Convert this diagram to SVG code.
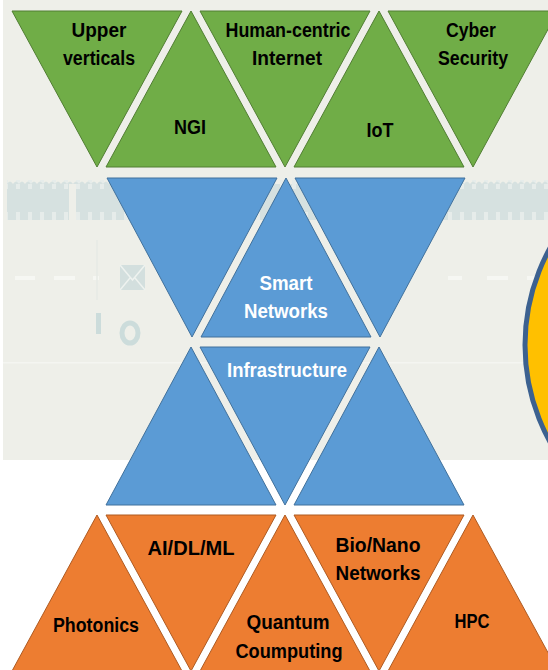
<svg xmlns="http://www.w3.org/2000/svg" width="548" height="670" viewBox="0 0 548 670">
  <defs>
    <style>
      .green { fill: #70AD47; stroke: #507E32; stroke-width: 1; }
      .blue { fill: #5B9BD5; stroke: #41719C; stroke-width: 1; }
      .orange { fill: #ED7D31; stroke: #AE5A21; stroke-width: 1; }
      .lbl { font-family: "Liberation Sans", Arial, sans-serif; font-weight: bold; font-size: 20px; text-anchor: middle; }
      .dark { fill: #000000; }
      .light { fill: #FFFFFF; }
      .faint { fill: #D6E1E0; }
      .dash { fill: #F6F7F3; }
    </style>
    <pattern id="windows" x="0" y="0" width="12" height="40" patternUnits="userSpaceOnUse">
      <rect x="4" y="12" width="4" height="17" fill="#E6ECEA"/>
    </pattern>
  </defs>

  <!-- backdrop -->
  <rect x="0" y="0" width="548" height="670" fill="#FFFFFF"/>
  <rect x="3" y="0" width="545" height="460" fill="#EEEFE9"/>

  <g id="backdrop-art">
    <!-- skyline band -->
    <rect x="7" y="184" width="62" height="36" class="faint"/>
    <rect x="76" y="184" width="472" height="36" class="faint"/>
    <rect x="7" y="180" width="541" height="40" fill="url(#windows)"/>
    <path d="M7,184 q3,-5 6,0 q3,-5 6,0 q3,-5 6,0 q3,-5 6,0 q3,-5 6,0 q3,-5 6,0 q3,-5 6,0 q3,-5 6,0 q3,-5 6,0 q3,-5 6,0 q3,-5 6,0 q3,-5 6,0 q3,-5 6,0 q3,-5 6,0 q3,-5 6,0 q3,-5 6,0 q3,-5 6,0 q3,-5 6,0" fill="#D6E1E0"/>
    <path d="M440,184 q3,-5 6,0 q3,-5 6,0 q3,-5 6,0 q3,-5 6,0 q3,-5 6,0 q3,-5 6,0 q3,-5 6,0 q3,-5 6,0 q3,-5 6,0 q3,-5 6,0 q3,-5 6,0 q3,-5 6,0 q3,-5 6,0 q3,-5 6,0 q3,-5 6,0 q3,-5 6,0 q3,-5 6,0 q3,-5 6,0" fill="#D6E1E0"/>
    <!-- dashed road line -->
    <rect x="15" y="276" width="20" height="4" class="dash"/>
    <rect x="54" y="276" width="21" height="4" class="dash"/>
    <rect x="93" y="276" width="6" height="4" class="dash"/>
    <rect x="448" y="276" width="14" height="4" class="dash"/>
    <rect x="487" y="276" width="21" height="4" class="dash"/>
    <rect x="527" y="276" width="21" height="4" class="dash"/>
    <rect x="3" y="362" width="545" height="1.5" fill="#F4F5F1"/>
    <line x1="97" y1="240" x2="97" y2="300" stroke="#E6EAE5" stroke-width="1.5"/>
    <!-- envelope -->
    <rect x="120" y="265" width="25" height="25" fill="#D3DFDE"/>
    <path d="M120,265 L132.5,280 L145,265 M120,290 L130,278 M145,290 L135,278" fill="none" stroke="#EEF2EF" stroke-width="1.5"/>
    <!-- I / O marks -->
    <rect x="96" y="313" width="5" height="21" fill="#CCDCDB"/>
    <ellipse cx="130" cy="333" rx="8" ry="10" fill="none" stroke="#CCDCDB" stroke-width="5"/>
    <!-- yellow disc on the right -->
    <circle cx="725" cy="345" r="200" fill="#FFC000" stroke="#3C6190" stroke-width="5"/>
  </g>

  <!-- top row -->
  <g id="upper-verticals">
    <polygon class="green" points="12,11 182,11 97,167"/>
    <text class="lbl dark" x="99" y="37" textLength="55" lengthAdjust="spacingAndGlyphs">Upper</text>
    <text class="lbl dark" x="99" y="65" textLength="72" lengthAdjust="spacingAndGlyphs">verticals</text>
  </g>
  <g id="ngi">
    <polygon class="green" points="191,11 106,167 276,167"/>
    <text class="lbl dark" x="190" y="134" textLength="32" lengthAdjust="spacingAndGlyphs">NGI</text>
  </g>
  <g id="human-centric-internet">
    <polygon class="green" points="200,11 370,11 285,167"/>
    <text class="lbl dark" x="288" y="37" textLength="125" lengthAdjust="spacingAndGlyphs">Human-centric</text>
    <text class="lbl dark" x="287" y="65" textLength="70" lengthAdjust="spacingAndGlyphs">Internet</text>
  </g>
  <g id="iot">
    <polygon class="green" points="379,11 294,167 464,167"/>
    <text class="lbl dark" x="380" y="137" textLength="27" lengthAdjust="spacingAndGlyphs">IoT</text>
  </g>
  <g id="cyber-security">
    <polygon class="green" points="388,11 558,11 473,167"/>
    <text class="lbl dark" x="471" y="37" textLength="50" lengthAdjust="spacingAndGlyphs">Cyber</text>
    <text class="lbl dark" x="473" y="65" textLength="70" lengthAdjust="spacingAndGlyphs">Security</text>
  </g>

  <!-- middle rows -->
  <g id="blue-upper-left">
    <polygon class="blue" points="107,178 277,178 192,337"/>
  </g>
  <g id="smart-networks">
    <polygon class="blue" points="286,178 201,337 371,337"/>
    <text class="lbl light" x="286" y="290" textLength="53" lengthAdjust="spacingAndGlyphs">Smart</text>
    <text class="lbl light" x="286" y="318" textLength="84" lengthAdjust="spacingAndGlyphs">Networks</text>
  </g>
  <g id="blue-upper-right">
    <polygon class="blue" points="295,178 465,178 380,337"/>
  </g>
  <g id="blue-lower-left">
    <polygon class="blue" points="191,347 106,505 276,505"/>
  </g>
  <g id="infrastructure">
    <polygon class="blue" points="200,347 370,347 285,505"/>
    <text class="lbl light" x="287" y="377" textLength="120" lengthAdjust="spacingAndGlyphs">Infrastructure</text>
  </g>
  <g id="blue-lower-right">
    <polygon class="blue" points="379,347 294,505 464,505"/>
  </g>

  <!-- bottom row -->
  <g id="photonics">
    <polygon class="orange" points="97,515 12,671 182,671"/>
    <text class="lbl dark" x="96" y="632" textLength="86" lengthAdjust="spacingAndGlyphs">Photonics</text>
  </g>
  <g id="ai-dl-ml">
    <polygon class="orange" points="106,515 276,515 191,671"/>
    <text class="lbl dark" x="191" y="555" textLength="87" lengthAdjust="spacingAndGlyphs">AI/DL/ML</text>
  </g>
  <g id="quantum-computing">
    <polygon class="orange" points="285,515 200,671 370,671"/>
    <text class="lbl dark" x="288" y="629" textLength="83" lengthAdjust="spacingAndGlyphs">Quantum</text>
    <text class="lbl dark" x="289" y="658" textLength="107" lengthAdjust="spacingAndGlyphs">Coumputing</text>
  </g>
  <g id="bio-nano-networks">
    <polygon class="orange" points="294,515 464,515 379,671"/>
    <text class="lbl dark" x="378" y="552" textLength="85" lengthAdjust="spacingAndGlyphs">Bio/Nano</text>
    <text class="lbl dark" x="378" y="580" textLength="85" lengthAdjust="spacingAndGlyphs">Networks</text>
  </g>
  <g id="hpc">
    <polygon class="orange" points="473,515 388,671 558,671"/>
    <text class="lbl dark" x="472" y="628" textLength="35" lengthAdjust="spacingAndGlyphs">HPC</text>
  </g>

  <g id="connectors"></g>
</svg>
